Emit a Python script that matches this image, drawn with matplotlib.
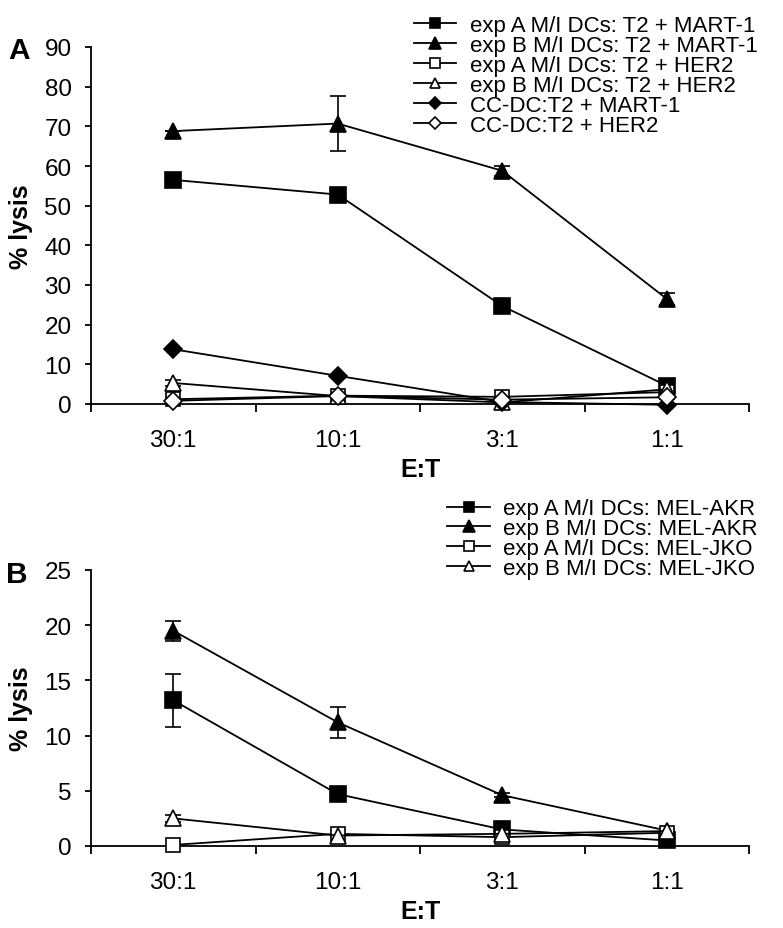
import matplotlib
matplotlib.use("Agg")
import matplotlib.pyplot as plt
import numpy as np

plt.rcParams['font.family'] = ['Liberation Sans', 'DejaVu Sans']

categories = ["30:1", "10:1", "3:1", "1:1"]

# Panel A
a_labels = ["exp A M/I DCs: T2 + MART-1", "exp B M/I DCs: T2 + MART-1",
            "exp A M/I DCs: T2 + HER2", "exp B M/I DCs: T2 + HER2",
            "CC-DC:T2 + MART-1", "CC-DC:T2 + HER2"]
a_expA_mart = [56.5, 52.8, 24.7, 4.6]
a_expA_mart_err = [1.5, 0.0, 0.0, 0.0]
a_expB_mart = [68.8, 70.7, 58.8, 26.5]
a_expB_mart_err = [0.0, 7.0, 1.2, 1.5]
a_expA_her2 = [1.2, 2.1, 1.8, 3.0]
a_expB_her2 = [5.3, 2.0, 0.4, 3.7]
a_expB_her2_err = [0.8, 0.0, 0.0, 0.0]
a_cc_mart = [13.8, 7.1, 0.5, -0.2]
a_cc_her2 = [0.8, 2.0, 1.1, 1.7]

# Panel B
b_labels = ["exp A M/I DCs: MEL-AKR", "exp B M/I DCs: MEL-AKR",
            "exp A M/I DCs: MEL-JKO", "exp B M/I DCs: MEL-JKO"]
b_expA_akr = [13.2, 4.7, 1.5, 0.5]
b_expA_akr_err = [2.4, 0.0, 0.0, 0.0]
b_expB_akr = [19.5, 11.2, 4.6, 1.4]
b_expB_akr_err = [0.9, 1.4, 0.2, 0.0]
b_expA_jko = [0.1, 1.1, 0.8, 1.2]
b_expB_jko = [2.5, 0.95, 1.1, 1.35]
b_expB_jko_err = [0.3, 0.0, 0.0, 0.0]

fig = plt.figure(figsize=(7.83, 9.29), dpi=100)
W, H = 783, 929
axA = fig.add_axes([91 / W, 1 - 405 / H, (749 - 91) / W, (405 - 48) / H])
axB = fig.add_axes([91 / W, 1 - 847 / H, (749 - 91) / W, (847 - 571) / H])

x = np.arange(len(categories))

def plot_series(ax, y, marker, filled, label, err=None, ms=11):
    fc = 'black' if filled else 'white'
    if err is not None:
        ax.errorbar(x, y, yerr=err, fmt='none', ecolor='black', elinewidth=1.2,
                    capsize=6, capthick=1.2, zorder=2, clip_on=False)
    ax.plot(x, y, color='black', lw=1.3, marker=marker, markersize=ms,
            markerfacecolor=fc, markeredgecolor='black', markeredgewidth=1.2,
            label=label, zorder=3, clip_on=False)

plot_series(axA, a_expA_mart, 's', True, a_labels[0], a_expA_mart_err, ms=11)
plot_series(axA, a_expB_mart, '^', True, a_labels[1], a_expB_mart_err, ms=12)
plot_series(axA, a_expA_her2, 's', False, a_labels[2], None, ms=10)
plot_series(axA, a_expB_her2, '^', False, a_labels[3], a_expB_her2_err, ms=11)
plot_series(axA, a_cc_mart, 'D', True, a_labels[4], None, ms=9)
plot_series(axA, a_cc_her2, 'D', False, a_labels[5], None, ms=9)

plot_series(axB, b_expA_akr, 's', True, b_labels[0], b_expA_akr_err, ms=11)
plot_series(axB, b_expB_akr, '^', True, b_labels[1], b_expB_akr_err, ms=12)
plot_series(axB, b_expA_jko, 's', False, b_labels[2], None, ms=10)
plot_series(axB, b_expB_jko, '^', False, b_labels[3], b_expB_jko_err, ms=11)

for ax, ymax, step in [(axA, 90, 10), (axB, 25, 5)]:
    ax.set_xlim(-0.5, 3.5)
    ax.set_ylim(0, ymax)
    ax.set_yticks(np.arange(0, ymax + 1, step))
    ax.set_xticks(np.arange(-0.5, 3.6, 1.0))
    ax.set_xticklabels([])
    ax.set_xticks(x, minor=True)
    ax.set_xticklabels(categories, minor=True)
    ax.tick_params(axis='x', which='minor', length=0, pad=18, labelsize=17.5)
    ax.tick_params(axis='x', which='major', length=6, width=1.3, direction='out')
    ax.tick_params(axis='y', length=4, width=1.3, direction='out', labelsize=17.5, pad=10)
    for s in ['top', 'right']:
        ax.spines[s].set_visible(False)
    for s in ['left', 'bottom']:
        ax.spines[s].set_linewidth(1.3)
    ax.set_ylabel('% lysis', fontsize=18, fontweight='bold', labelpad=8)
    ax.set_xlabel('E:T', fontsize=18, fontweight='bold', labelpad=4)

legA = axA.legend(loc='upper right', bbox_to_anchor=(1.03, 1.12), frameon=False,
                  fontsize=16, handlelength=1.9, handletextpad=0.6,
                  labelspacing=-0.05, markerscale=0.7, borderpad=0)
legB = axB.legend(loc='upper right', bbox_to_anchor=(1.03, 1.30), frameon=False,
                  fontsize=16, handlelength=1.9, handletextpad=0.6,
                  labelspacing=-0.05, markerscale=0.7, borderpad=0)

fig.text(8 / W, 1 - 51 / H, 'A', fontsize=21.5, fontweight='bold', va='center', ha='left')
fig.text(6 / W, 1 - 575 / H, 'B', fontsize=21.5, fontweight='bold', va='center', ha='left')

fig.savefig('out.png', dpi=100)
